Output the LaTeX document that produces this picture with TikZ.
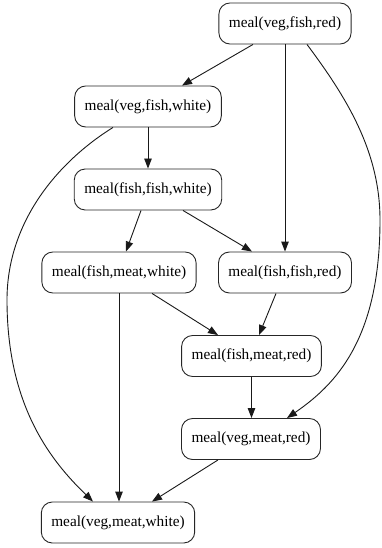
\documentclass[tikz,border=0pt]{standalone}
\usepackage{fontspec}
\setmainfont{Liberation Serif}
\usetikzlibrary{arrows.meta}
\begin{document}
\begin{tikzpicture}[x=1bp,y=-1bp,
  meal/.style={draw=black!85, line width=0.9bp, rounded corners=11bp, minimum height=41bp, inner xsep=10bp, inner ysep=0bp, font=\fontsize{15.3bp}{18bp}\selectfont, anchor=center},
  edge/.style={draw=black!90, line width=0.9bp, -{Triangle[length=10bp,width=7.5bp]}}]
\useasboundingbox (0,0) rectangle (381,548);
\node[meal] (n1) at (285,23.5) {meal(veg,fish,red)};
\node[meal] (n2) at (148,106.5) {meal(veg,fish,white)};
\node[meal] (n3) at (148,189.5) {meal(fish,fish,white)};
\node[meal] (n4) at (119,272.5) {meal(fish,meat,white)};
\node[meal] (n5) at (285,272.5) {meal(fish,fish,red)};
\node[meal] (n6) at (251.5,356) {meal(fish,meat,red)};
\node[meal] (n7) at (251,439) {meal(veg,meat,red)};
\node[meal] (n8) at (118,522.5) {meal(veg,meat,white)};
\draw[edge] ([xshift=-32bp]n1.south) -- ([xshift=34bp]n2.north);
\draw[edge] (n1.south) -- (n5.north);
\draw[edge] ([xshift=22bp]n1.south) .. controls +(38,51) and +(0,-70) .. (380,220) .. controls (380,340) and (335,385) .. ([xshift=36bp]n7.north);
\draw[edge] (n2.south) -- (n3.north);
\draw[edge] ([xshift=-35bp]n2.south) .. controls +(-53,33) and +(0,-80) .. (7,300) .. controls (7,405) and (50,460) .. ([xshift=-25bp]n8.north);
\draw[edge] ([xshift=-7bp]n3.south) -- ([xshift=7bp]n4.north);
\draw[edge] ([xshift=35bp]n3.south) -- ([xshift=-33bp]n5.north);
\draw[edge] (n4.south) -- (n4.south |- n8.north);
\draw[edge] ([xshift=33bp]n4.south) -- ([xshift=-33.5bp]n6.north);
\draw[edge] ([xshift=-9bp]n5.south) -- ([xshift=7.5bp]n6.north);
\draw[edge] (n6.south) -- (n6.south |- n7.north);
\draw[edge] ([xshift=-33bp]n7.south) -- ([xshift=34bp]n8.north);
\end{tikzpicture}
\end{document}
